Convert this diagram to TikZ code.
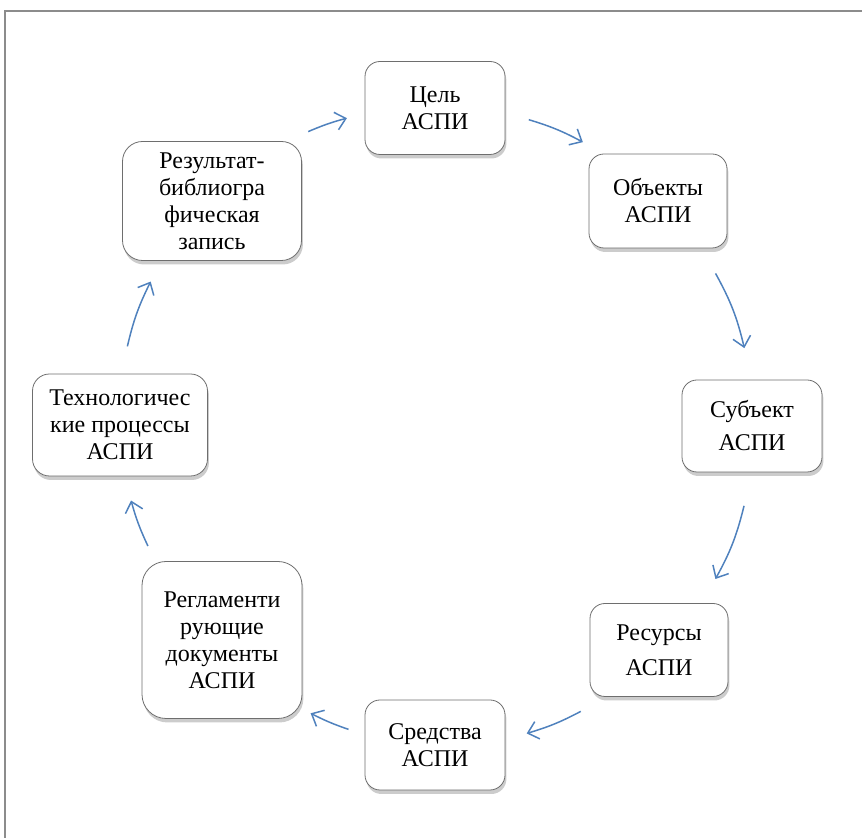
\documentclass[tikz,border=0pt]{standalone}
\usepackage{fontspec}
\setmainfont{Liberation Serif}
\usetikzlibrary{arrows.meta}
\usetikzlibrary{shadows}
\definecolor{arrowblue}{RGB}{79,129,189}
\definecolor{framegray}{RGB}{140,140,140}
\definecolor{boxgray}{RGB}{110,110,110}

\begin{document}
\begin{tikzpicture}[x=0.5pt, y=0.5pt,
  block/.style={draw=boxgray, fill=white, rounded corners=7.5pt, align=center, inner sep=2pt,
    font=\fontsize{12}{13.5}\selectfont,
    drop shadow={opacity=0.4, shadow xshift=0.7pt, shadow yshift=-2pt}},
  cycarrow/.style={arrowblue, line width=0.75pt, -{Straight Barb[length=5pt, width=9pt]}}]
\useasboundingbox (0,0) rectangle (862,838);
\draw[framegray, line width=1pt] (5,0) -- (5,827) -- (862,827);

\node[block, minimum width=70pt, minimum height=46.5pt] (goal) at (435,730) {Цель\\АСПИ};
\node[block, minimum width=69pt, minimum height=47pt] (obj) at (658,637) {Объекты\\АСПИ};
\node[block, minimum width=70pt, minimum height=46pt] (subj) at (752,412) {Субъект\\[3pt]АСПИ};
\node[block, minimum width=69pt, minimum height=46.5pt] (res) at (659,188) {Ресурсы\\[4pt]АСПИ};
\node[block, minimum width=70pt, minimum height=45pt] (means) at (435,93) {Средства\\АСПИ};
\node[block, minimum width=80pt, minimum height=78.5pt, rounded corners=12pt] (regl) at (222,198) {Регламенти\\рующие\\документы\\АСПИ};
\node[block, minimum width=87.5pt, minimum height=51pt, rounded corners=8.5pt] (tech) at (120,413) {Технологичес\\кие процессы\\АСПИ};
\node[block, minimum width=89.5pt, minimum height=59.5pt, rounded corners=10pt] (result) at (212,637) {Результат-\\библиогра\\фическая\\запись};

\path (result.center) to[bend left=22.5] coordinate[pos=0.477] (a1) coordinate[pos=0.653] (b1) (goal.center);
\draw[cycarrow] (a1) to[bend left=4] (b1);
\path (goal.center) to[bend left=22.5] coordinate[pos=0.372] (a2) coordinate[pos=0.624] (b2) (obj.center);
\draw[cycarrow] (a2) to[bend left=5.7] (b2);
\path (obj.center) to[bend left=22.5] coordinate[pos=0.36] (a3) coordinate[pos=0.70] (b3) (subj.center);
\draw[cycarrow] (a3) to[bend left=7.8] (b3);
\path (subj.center) to[bend left=22.5] coordinate[pos=0.31] (a4) coordinate[pos=0.646] (b4) (res.center);
\draw[cycarrow] (a4) to[bend left=7.6] (b4);
\path (res.center) to[bend left=22.5] coordinate[pos=0.39] (a5) coordinate[pos=0.64] (b5) (means.center);
\draw[cycarrow] (a5) to[bend left=5.6] (b5);
\path (means.center) to[bend left=22.5] coordinate[pos=0.35] (a6) coordinate[pos=0.53] (b6) (regl.center);
\draw[cycarrow] (a6) to[bend left=4] (b6);
\path (regl.center) to[bend left=22.5] coordinate[pos=0.49] (a7) coordinate[pos=0.70] (b7) (tech.center);
\draw[cycarrow] (a7) to[bend left=4.8] (b7);
\path (tech.center) to[bend left=22.5] coordinate[pos=0.305] (a8) coordinate[pos=0.60] (b8) (result.center);
\draw[cycarrow] (a8) to[bend left=6.6] (b8);
\end{tikzpicture}
\end{document}
